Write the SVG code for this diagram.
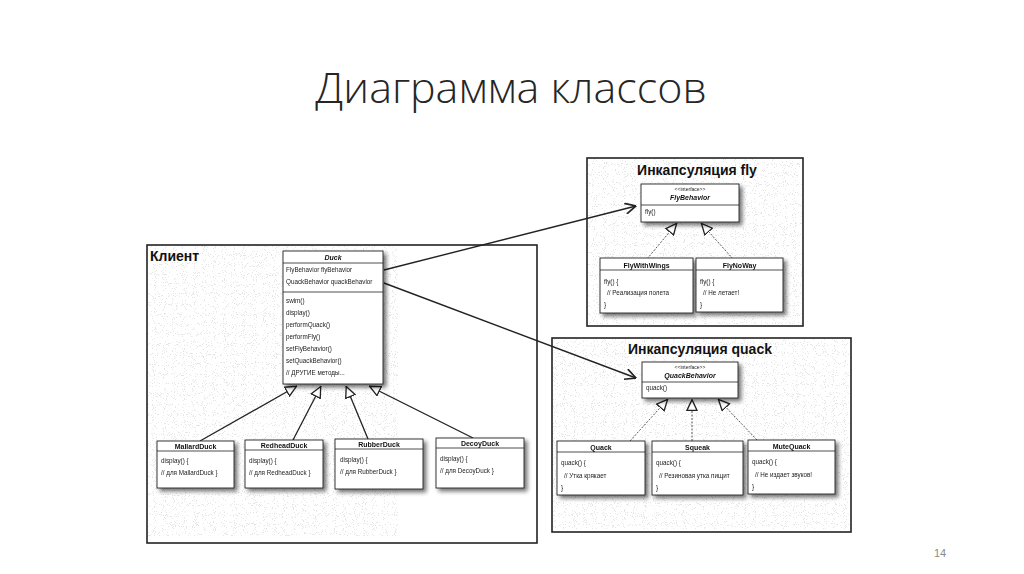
<svg xmlns="http://www.w3.org/2000/svg" width="1024" height="574" viewBox="0 0 1024 574">
<style>
.frame{fill:none;stroke:#222;stroke-width:1.6}
.box{fill:#fff;stroke:#222;stroke-width:0.9}
.div{stroke:#222;stroke-width:0.8}
.t{font-family:"Liberation Sans",Arial,sans-serif;font-size:6.3px;fill:#222}
.h{font-family:"Liberation Sans",Arial,sans-serif;font-size:7px;font-weight:bold;fill:#111;text-anchor:middle}
.hi{font-style:italic}
.st{font-family:"Liberation Sans",Arial,sans-serif;font-size:5px;fill:#222;text-anchor:middle}
.ft{font-family:"Liberation Sans",Arial,sans-serif;font-size:14px;font-weight:bold;fill:#111}
.gen{fill:none;stroke:#222;stroke-width:1.3;marker-end:url(#tri)}
.real{fill:none;stroke:#444;stroke-width:0.9;stroke-dasharray:2 1.5;marker-end:url(#tri)}
.assoc{fill:none;stroke:#222;stroke-width:1.4;marker-end:url(#open)}
</style>
<defs>
<marker id="tri" markerUnits="userSpaceOnUse" markerWidth="12" markerHeight="12" viewBox="0 0 10 10" refX="10" refY="5" orient="auto">
<path d="M0.5,0.8 L9.5,5 L0.5,9.2 Z" fill="#fff" stroke="#222" stroke-width="1.1"/>
</marker>
<marker id="open" markerUnits="userSpaceOnUse" markerWidth="12" markerHeight="12" viewBox="0 0 10 10" refX="9.5" refY="5" orient="auto">
<path d="M0.5,0.5 L9.5,5 L0.5,9.5" fill="none" stroke="#222" stroke-width="1.4"/>
</marker>
<filter id="sh" x="-20%" y="-20%" width="150%" height="150%">
<feGaussianBlur in="SourceAlpha" stdDeviation="2.2"/>
<feOffset dx="3" dy="3" result="b"/>
<feComponentTransfer><feFuncA type="linear" slope="0.55"/></feComponentTransfer>
<feMerge><feMergeNode/><feMergeNode in="SourceGraphic"/></feMerge>
</filter>
<filter id="noise" x="0" y="0" width="100%" height="100%">
<feTurbulence type="fractalNoise" baseFrequency="1.1" numOctaves="1" seed="3"/>
<feColorMatrix type="matrix" values="0 0 0 0 0.4  0 0 0 0 0.4  0 0 0 0 0.4  0 0 0 -20 7.6"/>
<feComposite in2="SourceGraphic" operator="in"/>
</filter>
</defs>
<rect width="1024" height="574" fill="#fff"/>
<text x="511" y="103" text-anchor="middle" font-family="'Open Sans','Noto Sans',sans-serif" font-weight="300" font-size="43" fill="#262626">Диаграмма классов</text>
<text x="940" y="557" text-anchor="middle" font-family="'Liberation Sans',Arial,sans-serif" font-size="11" fill="#8a8a8a">14</text>

<g opacity="0.3" filter="url(#noise)">
<rect x="148" y="246" width="250" height="290" fill="#000"/>
<rect x="588" y="159" width="214" height="165" fill="#000"/>
<rect x="553" y="339" width="296" height="190" fill="#000"/>
</g>

<g id="frame-client">
<rect class="frame" x="147" y="245" width="390" height="298"/>
<text class="ft" x="150" y="261">Клиент</text>
</g>
<g id="frame-fly">
<rect class="frame" x="587" y="158" width="216" height="168"/>
<text class="ft" x="697" y="175" text-anchor="middle" font-size="13">Инкапсуляция fly</text>
</g>
<g id="frame-quack">
<rect class="frame" x="552" y="338" width="299" height="194"/>
<text class="ft" x="700" y="354" text-anchor="middle">Инкапсуляция quack</text>
</g>

<g id="connectors">
<line class="gen" x1="200" y1="441" x2="297" y2="386"/>
<line class="gen" x1="293" y1="440" x2="321" y2="386"/>
<line class="gen" x1="368" y1="439" x2="346" y2="386"/>
<line class="gen" x1="473" y1="438" x2="369" y2="386"/>
<line class="assoc" x1="384" y1="270" x2="636" y2="206"/>
<line class="assoc" x1="384" y1="283" x2="636" y2="378"/>
<line class="real" x1="647" y1="259" x2="677" y2="223"/>
<line class="real" x1="733" y1="259" x2="701" y2="223"/>
<line class="real" x1="630" y1="441" x2="668" y2="399"/>
<line class="real" x1="692" y1="441" x2="692" y2="399"/>
<line class="real" x1="757" y1="440" x2="718" y2="399"/>
</g>

<g id="Duck" filter="url(#sh)">
<rect class="box" x="283" y="251" width="100" height="133"/>
<line class="div" x1="283" y1="263" x2="383" y2="263"/>
<line class="div" x1="283" y1="292" x2="383" y2="292"/>
<text class="h hi" x="333" y="260">Duck</text>
<text class="t" x="286" y="272">FlyBehavior flyBehavior</text>
<text class="t" x="286" y="284">QuackBehavior quackBehavior</text>
<text class="t" x="286" y="303">swim()</text>
<text class="t" x="286" y="315">display()</text>
<text class="t" x="286" y="327">performQuack()</text>
<text class="t" x="286" y="339">performFly()</text>
<text class="t" x="286" y="351">setFlyBehavior()</text>
<text class="t" x="286" y="363">setQuackBehavior()</text>
<text class="t" x="286" y="375">// ДРУГИЕ методы...</text>
</g>

<g id="MallardDuck" filter="url(#sh)">
<rect class="box" x="157" y="441" width="77" height="47"/>
<line class="div" x1="157" y1="451" x2="234" y2="451"/>
<text class="h" x="195.5" y="449">MallardDuck</text>
<text class="t" x="161" y="463">display() {</text>
<text class="t" x="161" y="475">// для MallardDuck }</text>
</g>
<g id="RedheadDuck" filter="url(#sh)">
<rect class="box" x="245" y="440" width="78" height="48"/>
<line class="div" x1="245" y1="450" x2="323" y2="450"/>
<text class="h" x="284" y="448">RedheadDuck</text>
<text class="t" x="249" y="463">display() {</text>
<text class="t" x="249" y="475">// для RedheadDuck }</text>
</g>
<g id="RubberDuck" filter="url(#sh)">
<rect class="box" x="335" y="439" width="88" height="50"/>
<line class="div" x1="335" y1="449" x2="423" y2="449"/>
<text class="h" x="379" y="447">RubberDuck</text>
<text class="t" x="340" y="462">display() {</text>
<text class="t" x="340" y="474">// для RubberDuck }</text>
</g>
<g id="DecoyDuck" filter="url(#sh)">
<rect class="box" x="436" y="438" width="88" height="50"/>
<line class="div" x1="436" y1="448" x2="524" y2="448"/>
<text class="h" x="480" y="446">DecoyDuck</text>
<text class="t" x="440" y="461">display() {</text>
<text class="t" x="440" y="473">// для  DecoyDuck }</text>
</g>

<g id="FlyBehavior" filter="url(#sh)">
<rect class="box" x="641" y="184" width="98" height="38"/>
<line class="div" x1="641" y1="205" x2="739" y2="205"/>
<text class="st" x="690" y="191">&lt;&lt;interface&gt;&gt;</text>
<text class="h hi" x="690" y="200">FlyBehavior</text>
<text class="t" x="645" y="214">fly()</text>
</g>
<g id="FlyWithWings" filter="url(#sh)">
<rect class="box" x="600" y="258" width="93" height="55"/>
<line class="div" x1="600" y1="270" x2="693" y2="270"/>
<text class="h" x="646.5" y="268">FlyWithWings</text>
<text class="t" x="604" y="284">fly() {</text>
<text class="t" x="607" y="295">// Реализация полета</text>
<text class="t" x="604" y="307">}</text>
</g>
<g id="FlyNoWay" filter="url(#sh)">
<rect class="box" x="696" y="258" width="87" height="54"/>
<line class="div" x1="696" y1="270" x2="783" y2="270"/>
<text class="h" x="739.5" y="268">FlyNoWay</text>
<text class="t" x="700" y="284">fly() {</text>
<text class="t" x="703" y="295">// Не летает!</text>
<text class="t" x="700" y="307">}</text>
</g>

<g id="QuackBehavior" filter="url(#sh)">
<rect class="box" x="642" y="362" width="96" height="36"/>
<line class="div" x1="642" y1="382" x2="738" y2="382"/>
<text class="st" x="690" y="369">&lt;&lt;interface&gt;&gt;</text>
<text class="h hi" x="690" y="378">QuackBehavior</text>
<text class="t" x="646" y="390">quack()</text>
</g>
<g id="Quack" filter="url(#sh)">
<rect class="box" x="557" y="441" width="88" height="54"/>
<line class="div" x1="557" y1="452" x2="645" y2="452"/>
<text class="h" x="601" y="450">Quack</text>
<text class="t" x="561" y="465">quack() {</text>
<text class="t" x="564" y="478">// Утка крякает</text>
<text class="t" x="561" y="490">}</text>
</g>
<g id="Squeak" filter="url(#sh)">
<rect class="box" x="652" y="441" width="91" height="54"/>
<line class="div" x1="652" y1="452" x2="743" y2="452"/>
<text class="h" x="697.5" y="450">Squeak</text>
<text class="t" x="656" y="465">quack() {</text>
<text class="t" x="659" y="478">// Резиновая утка пищит</text>
<text class="t" x="656" y="490">}</text>
</g>
<g id="MuteQuack" filter="url(#sh)">
<rect class="box" x="748" y="440" width="87" height="54"/>
<line class="div" x1="748" y1="451" x2="835" y2="451"/>
<text class="h" x="791.5" y="449">MuteQuack</text>
<text class="t" x="752" y="464">quack() {</text>
<text class="t" x="755" y="477">// Не издает звуков!</text>
<text class="t" x="752" y="489">}</text>
</g>
</svg>
